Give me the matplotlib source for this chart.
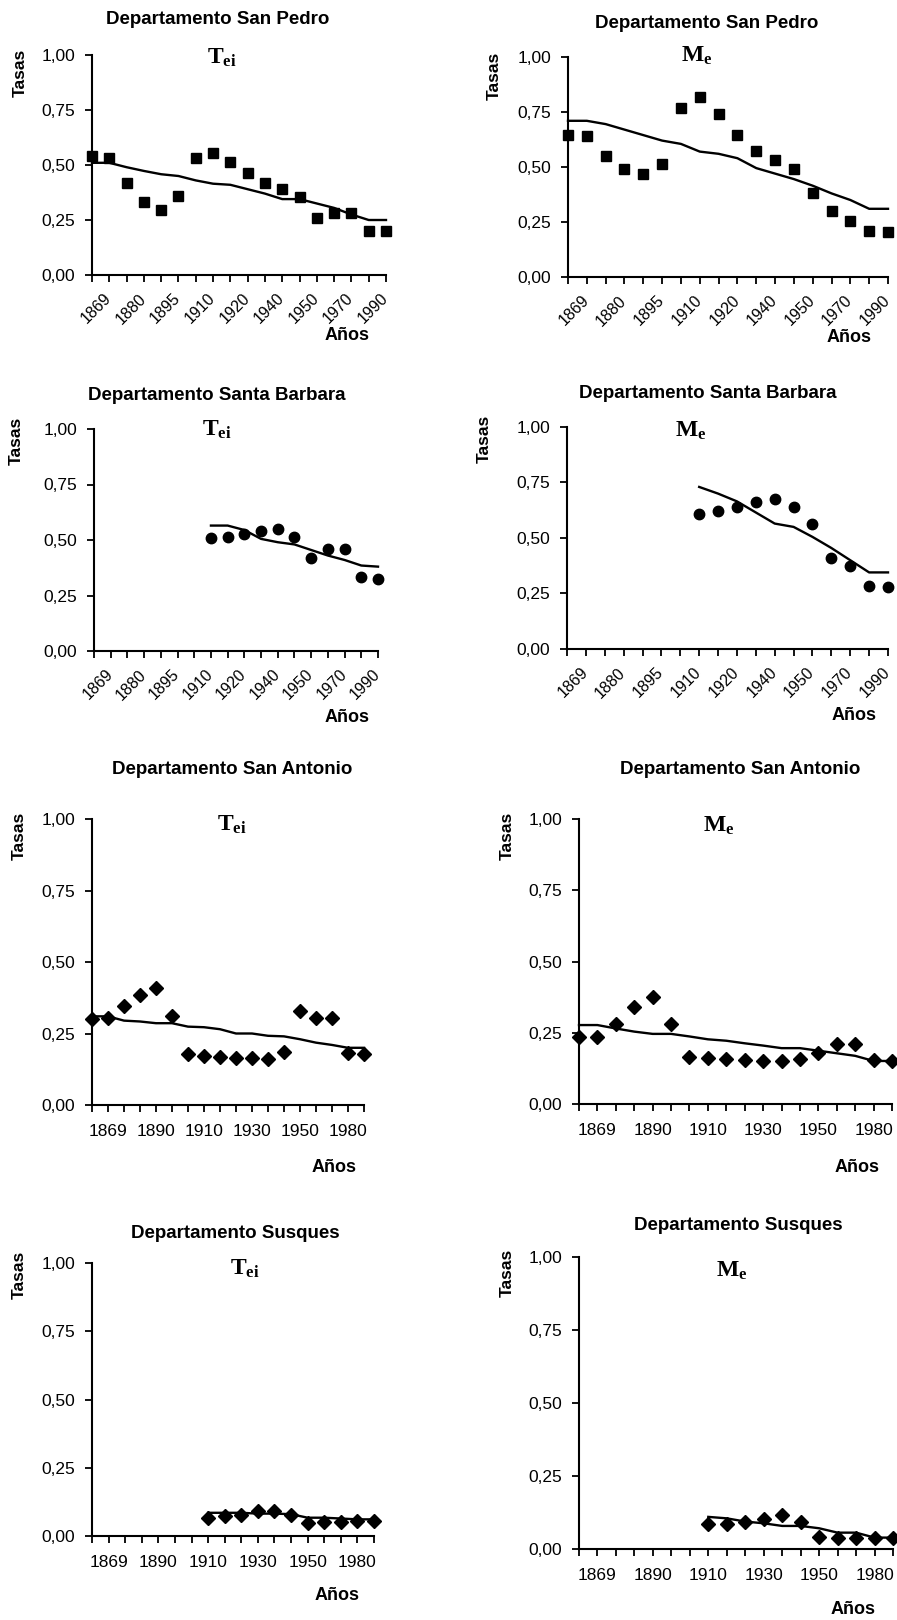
"""
Tasas Tei y Me por departamento (San Pedro, Santa Barbara, San Antonio, Susques).
"""
import matplotlib
matplotlib.use('Agg')
import matplotlib.pyplot as plt
import matplotlib.transforms as mtransforms
import numpy as np

nan = np.nan

# Categorias del eje x (18 periodos) y etiquetas visibles
periodos = np.arange(18)
etiq_oblicuas = ['1869', '1880', '1895', '1910', '1920', '1940', '1950', '1970', '1990']
etiq_rectas = ['1869', '1890', '1910', '1930', '1950', '1980']

# San Pedro
sp_tei = [0.54, 0.53, 0.42, 0.33, 0.295, 0.36, 0.53, 0.555, 0.515, 0.465, 0.42, 0.39,
          0.355, 0.26, 0.28, 0.28, 0.20, 0.20]
sp_tei_tend = [0.51, 0.51, 0.49, 0.473, 0.458, 0.45, 0.43, 0.415, 0.41, 0.39, 0.37, 0.345,
               0.345, 0.325, 0.305, 0.275, 0.25, 0.25]
sp_me = [0.645, 0.64, 0.55, 0.49, 0.47, 0.515, 0.77, 0.82, 0.74, 0.645, 0.575, 0.53,
         0.49, 0.38, 0.30, 0.255, 0.21, 0.205]
sp_me_tend = [0.71, 0.71, 0.695, 0.67, 0.645, 0.62, 0.605, 0.57, 0.56, 0.54, 0.495, 0.47,
              0.445, 0.415, 0.38, 0.35, 0.31, 0.31]

# Santa Barbara
sb_tei = [nan] * 7 + [0.51, 0.515, 0.525, 0.54, 0.55, 0.515, 0.42, 0.46, 0.46, 0.335, 0.325]
sb_tei_tend = [nan] * 7 + [0.565, 0.565, 0.545, 0.505, 0.49, 0.48, 0.455, 0.43, 0.41,
                           0.385, 0.38]
sb_me = [nan] * 7 + [0.61, 0.62, 0.64, 0.66, 0.675, 0.64, 0.565, 0.41, 0.375, 0.285, 0.28]
sb_me_tend = [nan] * 7 + [0.73, 0.70, 0.665, 0.615, 0.565, 0.55, 0.505, 0.455, 0.40,
                          0.345, 0.345]

# San Antonio
sa_tei = [0.30, 0.305, 0.345, 0.385, 0.41, 0.31, 0.18, 0.172, 0.167, 0.163, 0.163, 0.16,
          0.185, 0.33, 0.305, 0.305, 0.183, 0.178]
sa_tei_tend = [0.31, 0.31, 0.295, 0.292, 0.286, 0.286, 0.274, 0.272, 0.265, 0.25, 0.25,
               0.242, 0.24, 0.23, 0.218, 0.21, 0.20, 0.20]
sa_me = [0.235, 0.235, 0.28, 0.34, 0.375, 0.28, 0.165, 0.16, 0.157, 0.155, 0.152, 0.15,
         0.157, 0.18, 0.21, 0.21, 0.155, 0.152]
sa_me_tend = [0.277, 0.277, 0.265, 0.254, 0.246, 0.246, 0.237, 0.227, 0.222, 0.213, 0.205,
              0.196, 0.196, 0.187, 0.178, 0.169, 0.151, 0.151]

# Susques
su_tei = [nan] * 7 + [0.066, 0.073, 0.076, 0.093, 0.093, 0.078, 0.048, 0.051, 0.051,
                      0.055, 0.055]
su_tei_tend = [nan] * 7 + [0.085, 0.085, 0.085, 0.082, 0.082, 0.08, 0.067, 0.067, 0.064,
                           0.061, 0.061]
su_me = [nan] * 7 + [0.084, 0.084, 0.094, 0.103, 0.118, 0.091, 0.042, 0.037, 0.037,
                     0.039, 0.039]
su_me_tend = [nan] * 7 + [0.11, 0.105, 0.094, 0.088, 0.079, 0.079, 0.071, 0.056, 0.056,
                          0.039, 0.039]

W, H = 897, 1620
plt.rcParams['font.family'] = 'Liberation Sans'
plt.rcParams['mathtext.fontset'] = 'custom'
plt.rcParams['mathtext.rm'] = 'Liberation Serif'
plt.rcParams['mathtext.bf'] = 'Liberation Serif:bold'

fig = plt.figure(figsize=(W / 100, H / 100), dpi=100)


def fx(x):
    return x / W


def fy(y):
    return 1 - y / H


# (titulo, letra, puntos, tendencia, marcador, oblicuas, caja ejes, pos titulo, pos letra,
#  pos Tasas, pos Años)
paneles = [
    ('Departamento San Pedro', r'$\mathbf{T_{ei}}$', sp_tei, sp_tei_tend, 's', True,
     (92, 386, 55, 275), (218, 20), (222, 58), (20, 73), (347, 336)),
    ('Departamento San Pedro', r'$\mathbf{M_{e}}$', sp_me, sp_me_tend, 's', True,
     (568, 888, 57, 277), (707, 23), (697, 56), (494, 76), (849, 337)),
    ('Departamento Santa Barbara', r'$\mathbf{T_{ei}}$', sb_tei, sb_tei_tend, 'o', True,
     (94, 378, 429, 651), (217, 396), (217, 430), (16, 441), (347, 717)),
    ('Departamento Santa Barbara', r'$\mathbf{M_{e}}$', sb_me, sb_me_tend, 'o', True,
     (567, 888, 427, 649), (708, 393), (691, 431), (484, 439), (854, 716)),
    ('Departamento San Antonio', r'$\mathbf{T_{ei}}$', sa_tei, sa_tei_tend, 'D', False,
     (92, 364, 819, 1105), (232, 770), (232, 825), (19, 836), (334, 1168)),
    ('Departamento San Antonio', r'$\mathbf{M_{e}}$', sa_me, sa_me_tend, 'D', False,
     (579, 892, 819, 1104), (740, 770), (719, 826), (507, 836), (857, 1168)),
    ('Departamento Susques', r'$\mathbf{T_{ei}}$', su_tei, su_tei_tend, 'D', False,
     (92, 374, 1263, 1536), (235, 1233), (245, 1269), (19, 1275), (337, 1595)),
    ('Departamento Susques', r'$\mathbf{M_{e}}$', su_me, su_me_tend, 'D', False,
     (579, 893, 1257, 1549), (738, 1225), (732, 1271), (507, 1273), (853, 1610)),
]

desplaza = mtransforms.ScaledTranslation(0.05, 0, fig.dpi_scale_trans)

for (titulo, letra, puntos, tend, marca, oblicuas, caja, p_tit, p_let, p_tas,
     p_anio) in paneles:
    xl, xr, y1, y0 = caja
    ax = fig.add_axes([fx(xl), fy(y0), (xr - xl) / W, (y0 - y1) / H])
    ax.plot(periodos, tend, color='black', linewidth=1.7, clip_on=False)
    ax.plot(periodos, puntos, linestyle='none', marker=marca, markersize=7.5,
            color='black', clip_on=False)
    ax.set_xlim(0, 17)
    ax.set_ylim(0, 1)
    for lado in ['top', 'right']:
        ax.spines[lado].set_visible(False)
    for lado in ['left', 'bottom']:
        ax.spines[lado].set_linewidth(1.5)

    ax.set_yticks([0, 0.25, 0.5, 0.75, 1.0])
    ax.set_yticklabels(['0,00', '0,25', '0,50', '0,75', '1,00'])
    ax.set_xticks(periodos)
    etiquetas = [''] * len(periodos)
    ax.tick_params(axis='both', direction='out', length=5, width=1.3, labelsize=12.5)
    ax.tick_params(axis='y', pad=7)
    if oblicuas:
        for i, e in zip(periodos[1::2], etiq_oblicuas):
            etiquetas[i] = e
        ax.set_xticklabels(etiquetas, rotation=45, ha='right', va='bottom',
                           rotation_mode='anchor', fontsize=11.5)
        ax.tick_params(axis='x', pad=14)
        for lab in ax.get_xticklabels():
            lab.set_transform(lab.get_transform() + desplaza)
    else:
        for i, e in zip(periodos[1::3], etiq_rectas):
            etiquetas[i] = e
        ax.set_xticklabels(etiquetas)
        ax.tick_params(axis='x', pad=9)

    fig.text(fx(p_tit[0]), fy(p_tit[1]), titulo, ha='center', va='center',
             fontsize=13.5, fontweight='bold')
    fig.text(fx(p_let[0]), fy(p_let[1]), letra, ha='center', va='center', fontsize=17)
    fig.text(fx(p_tas[0]), fy(p_tas[1]), 'Tasas', ha='center', va='center',
             fontsize=12.5, fontweight='bold', rotation=90)
    fig.text(fx(p_anio[0]), fy(p_anio[1]), 'Años', ha='center', va='center',
             fontsize=13, fontweight='bold')

fig.savefig('out.png', dpi=100)
